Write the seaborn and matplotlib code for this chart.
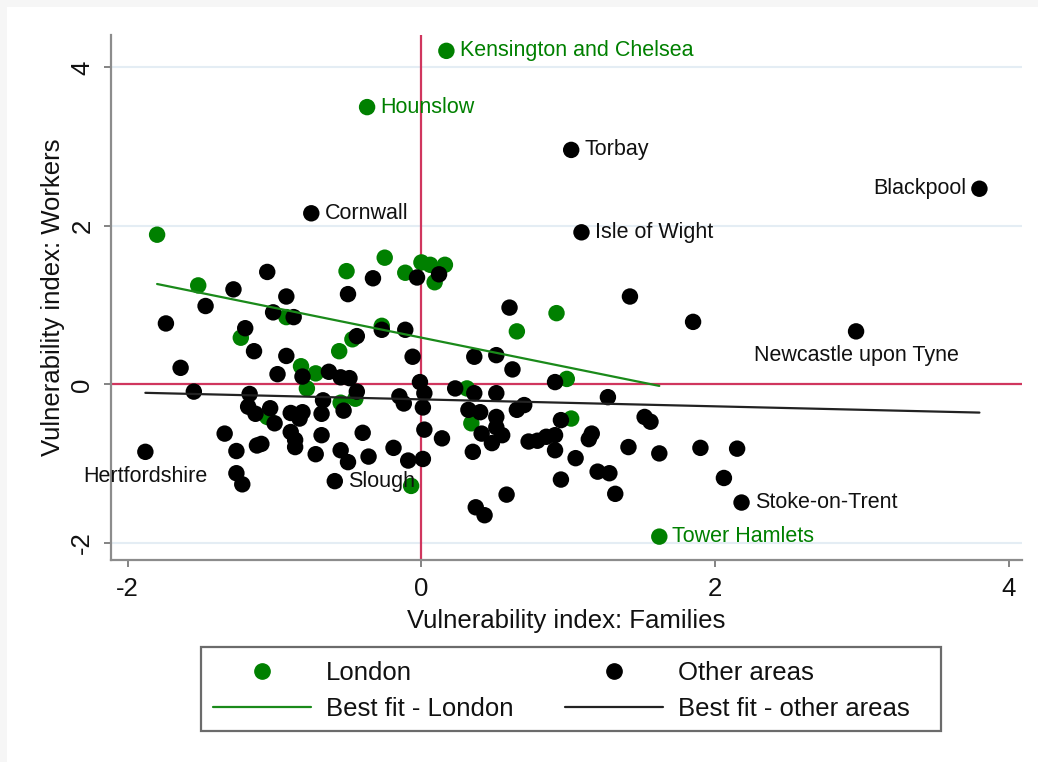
import numpy as np
import pandas as pd
import matplotlib
matplotlib.use("Agg")
import matplotlib.pyplot as plt
import seaborn as sns
from matplotlib.lines import Line2D
from matplotlib.patches import Rectangle

sns.set_style("white")
plt.rcParams['font.family'] = ['Liberation Sans', 'DejaVu Sans']
plt.rcParams['axes.unicode_minus'] = False

GREEN = '#008000'
BLACK = '#000000'
RED = '#d0365e'
TEXT = '#111111'

# ---------------- data ----------------
# London boroughs (unlabelled)
london_x = [-1.80, -1.52, -0.25, -0.51, -0.11, 0.00, 0.06, 0.16, 0.09, -0.92,
            -1.23, -0.27, -0.47, -0.56, -0.82, -0.72, -0.78, -0.55, -0.45, -1.05,
            -0.07, 0.92, 0.65, 0.99, 0.31, 0.34, 1.02]
london_y = [1.89, 1.25, 1.60, 1.43, 1.41, 1.54, 1.51, 1.51, 1.29, 0.85,
            0.59, 0.74, 0.57, 0.42, 0.23, 0.14, -0.05, -0.23, -0.18, -0.41,
            -1.28, 0.90, 0.67, 0.07, -0.05, -0.49, -0.43]

# Other areas (unlabelled)
other_x = [-1.05, -1.28, -1.47, -1.74, -0.92, -1.01, -0.87, -1.20, -1.14, -0.92,
           -1.64, -0.98, -0.81, -0.63, -0.55, -0.49, -0.50, -0.33, -0.27, -0.11,
           -0.44, -0.06, -0.03, 0.12, -0.01, -1.55, -1.17, -1.18, -1.03, -1.13,
           -1.00, -0.89, -0.81, -0.83, -0.67, -0.68, -0.53, -0.44, -0.15, -0.12,
           0.02, 0.01, 0.23, -1.34, -0.89, -0.68, -0.40, 0.02, 0.14, -1.26,
           -1.26, -1.22, -1.12, -1.09, -0.86, -0.86, -0.72, -0.55, -0.50, -0.36,
           -0.19, -0.09, 0.01, 0.60, 1.42, 1.85, 0.36, 0.51, 0.62, 0.91,
           0.36, 0.51, 0.32, 0.40, 0.51, 0.65, 0.70, 1.27, 1.52, 1.56,
           0.95, 0.41, 0.51, 0.55, 0.48, 0.35, 0.73, 0.79, 0.85, 0.91,
           0.91, 1.05, 0.95, 1.14, 1.16, 1.20, 1.28, 1.32, 0.58, 0.37,
           0.43, 1.41, 1.62, 1.90, 2.15, 2.06]
other_y = [1.42, 1.20, 0.99, 0.77, 1.11, 0.91, 0.85, 0.71, 0.42, 0.36,
           0.21, 0.13, 0.10, 0.16, 0.09, 0.08, 1.14, 1.34, 0.69, 0.69,
           0.61, 0.35, 1.35, 1.39, 0.03, -0.09, -0.12, -0.28, -0.30, -0.37,
           -0.49, -0.36, -0.35, -0.43, -0.20, -0.37, -0.33, -0.09, -0.15, -0.24,
           -0.11, -0.29, -0.05, -0.62, -0.60, -0.64, -0.61, -0.57, -0.68, -0.84,
           -1.12, -1.26, -0.77, -0.75, -0.70, -0.79, -0.88, -0.83, -0.98, -0.91,
           -0.80, -0.96, -0.94, 0.97, 1.11, 0.79, 0.35, 0.37, 0.19, 0.03,
           -0.11, -0.11, -0.32, -0.35, -0.41, -0.32, -0.26, -0.16, -0.41, -0.47,
           -0.45, -0.62, -0.54, -0.64, -0.74, -0.85, -0.72, -0.71, -0.66, -0.64,
           -0.83, -0.93, -1.20, -0.69, -0.62, -1.10, -1.12, -1.38, -1.39, -1.55,
           -1.65, -0.79, -0.87, -0.80, -0.81, -1.18]

# Labelled areas
label_names = ["Kensington and Chelsea", "Hounslow", "Tower Hamlets",
               "Torbay", "Blackpool", "Cornwall", "Isle of Wight",
               "Newcastle upon Tyne", "Hertfordshire", "Slough", "Stoke-on-Trent"]
label_x = [0.17, -0.37, 1.62, 1.02, 3.80, -0.75, 1.09, 2.96, -1.88, -0.59, 2.18]
label_y = [4.21, 3.50, -1.92, 2.96, 2.47, 2.16, 1.92, 0.67, -0.85, -1.22, -1.49]
label_group = ["London", "London", "London", "Other areas", "Other areas",
               "Other areas", "Other areas", "Other areas", "Other areas",
               "Other areas", "Other areas"]

# Best fit lines: intercept, slope
fit_london = (0.591, -0.376)
fit_other = (-0.188, -0.0439)

# label placement (Stata clock position), default 3
label_place = {"Blackpool": 9, "Newcastle upon Tyne": 6, "Hertfordshire": 6}

# ---------------- figure ----------------
df = pd.concat([
    pd.DataFrame({'x': london_x, 'y': london_y, 'group': 'London'}),
    pd.DataFrame({'x': other_x, 'y': other_y, 'group': 'Other areas'}),
    pd.DataFrame({'x': label_x, 'y': label_y, 'group': label_group}),
], ignore_index=True)

W, H = 1038, 762
fig = plt.figure(figsize=(W / 100, H / 100), dpi=100, facecolor='#f6f6f6')
fig.patches.append(Rectangle((7 / W, 0), 1 - 7 / W, 1 - 7 / H, transform=fig.transFigure,
                             facecolor='white', edgecolor='none', zorder=-10))
ax = fig.add_axes([111 / W, 1 - 560 / H, (1022 - 111) / W, (560 - 35) / H])
ax.set_facecolor('none')

ax.axhline(0, color=RED, lw=1.6, zorder=1)
ax.axvline(0, color=RED, lw=1.6, zorder=1)

sns.scatterplot(data=df[df.group == 'London'], x='x', y='y', color=GREEN, s=140,
                edgecolor='none', ax=ax, zorder=3, legend=False)
sns.scatterplot(data=df[df.group == 'Other areas'], x='x', y='y', color=BLACK, s=140,
                edgecolor='none', ax=ax, zorder=3, legend=False)

for grp, (a, b), col in [('London', fit_london, '#1a8a1a'), ('Other areas', fit_other, '#222222')]:
    sub = df[df.group == grp]
    xs = np.array([sub.x.min(), sub.x.max()])
    sns.lineplot(x=xs, y=a + b * xs, color=col, lw=1.6, ax=ax, zorder=4)

for name, x, y, grp in zip(label_names, label_x, label_y, label_group):
    pos = label_place.get(name, 3)
    col = GREEN if grp == 'London' else TEXT
    if pos == 3:
        off, ha, va = (9.5, 0), 'left', 'center'
    elif pos == 9:
        off, ha, va = (-9.5, 0), 'right', 'center'
    else:
        off, ha, va = (0, -17.5), 'center', 'center'
    ax.annotate(name, (x, y), xytext=off, textcoords='offset points',
                ha=ha, va=va, fontsize=15.5, color=col, zorder=5)

ax.set_xlim(-2.114, 4.09)
ax.set_ylim(-2.215, 4.41)
ax.set_xticks([-2, 0, 2, 4])
ax.set_yticks([-2, 0, 2, 4])
ax.yaxis.grid(True, color='#e4edf4', lw=1.5, zorder=0)
ax.set_axisbelow(True)

for side in ['top', 'right']:
    ax.spines[side].set_visible(False)
for side in ['left', 'bottom']:
    ax.spines[side].set_color('#8c8c8c')
    ax.spines[side].set_linewidth(1.6)

ax.tick_params(axis='both', length=5, width=1.2, color='#6e6e6e', labelsize=18.5,
               labelcolor=TEXT, pad=7, direction='out', left=True, bottom=True)
for lab in ax.get_yticklabels():
    lab.set_rotation(90)
    lab.set_va('center')

ax.set_xlabel("Vulnerability index: Families", fontsize=18.5, color=TEXT, labelpad=6)
ax.set_ylabel("Vulnerability index: Workers", fontsize=18.5, color=TEXT, labelpad=4)

# legend: frame drawn separately (Stata-like extra right padding)
fig.patches.append(Rectangle((201 / W, 1 - 731 / H), 740 / W, 84 / H, transform=fig.transFigure,
                             facecolor='white', edgecolor='#6b6b6b', lw=1.6, zorder=-5))
handles = [
    Line2D([], [], ls='none', marker='o', color=GREEN, markersize=11),
    Line2D([], [], color='#1a8a1a', lw=1.6),
    Line2D([], [], ls='none', marker='o', color=BLACK, markersize=11),
    Line2D([], [], color='#222222', lw=1.6),
]
labels = ["London", "Best fit - London", "Other areas", "Best fit - other areas"]
leg = fig.legend(handles, labels, ncol=2, loc='center',
                 bbox_to_anchor=(561.5 / W, 1 - 691 / H), fontsize=18.5,
                 frameon=False, handlelength=3.8, handletextpad=0.6, columnspacing=2.0,
                 labelspacing=0.5, borderpad=0.45)
for t in leg.get_texts():
    t.set_color(TEXT)

fig.savefig("out.png", dpi=100, facecolor=fig.get_facecolor())
